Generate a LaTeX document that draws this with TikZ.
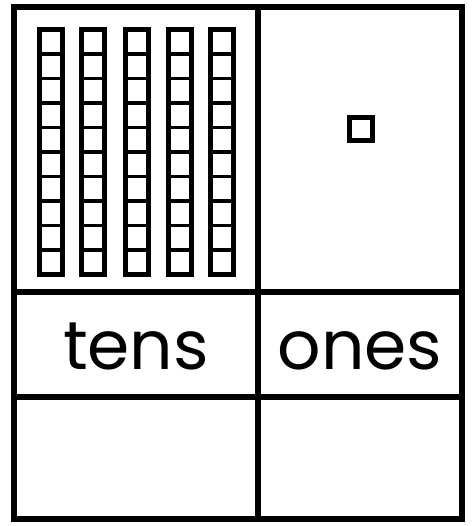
\documentclass[tikz,border=0pt]{standalone}
\usepackage{fontspec}
\setmainfont{Poppins}
\tikzset{
  frame/.style={line width=5.2pt, line cap=rect, draw=black},
  rodbox/.style={line width=5pt, draw=black},
  rodline/.style={line width=3.8pt, draw=black},
  label/.style={font=\fontsize{68}{68}\selectfont, inner sep=0pt, anchor=base}
}
\begin{document}
\begin{tikzpicture}[x=1pt,y=-1pt]
\useasboundingbox (0,0) rectangle (473,526);
\fill[white] (0,0) rectangle (473,526);
% outer frame and dividers
\draw[frame] (14,7) rectangle (462,519);
\draw[frame] (258,7) -- (258,519);
\draw[frame] (14,292) -- (462,292);
\draw[frame] (14,397) -- (462,397);
% ten rods
\foreach \x in {39.5,81.5,125.5,168.5,210.5}{
  \draw[rodbox] (\x,29.5) rectangle ++(23,245);
  \foreach \k in {1,...,9}{
    \draw[rodline] (\x,{29.5+\k*24.5}) -- ++(23,0);
  }
}
% single unit
\draw[rodbox] (349,118) rectangle (372,141);
% labels
\node[label] (tens) at (136,369) {tens};
\node[label] (ones) at (360,369) {ones};
\end{tikzpicture}
\end{document}
